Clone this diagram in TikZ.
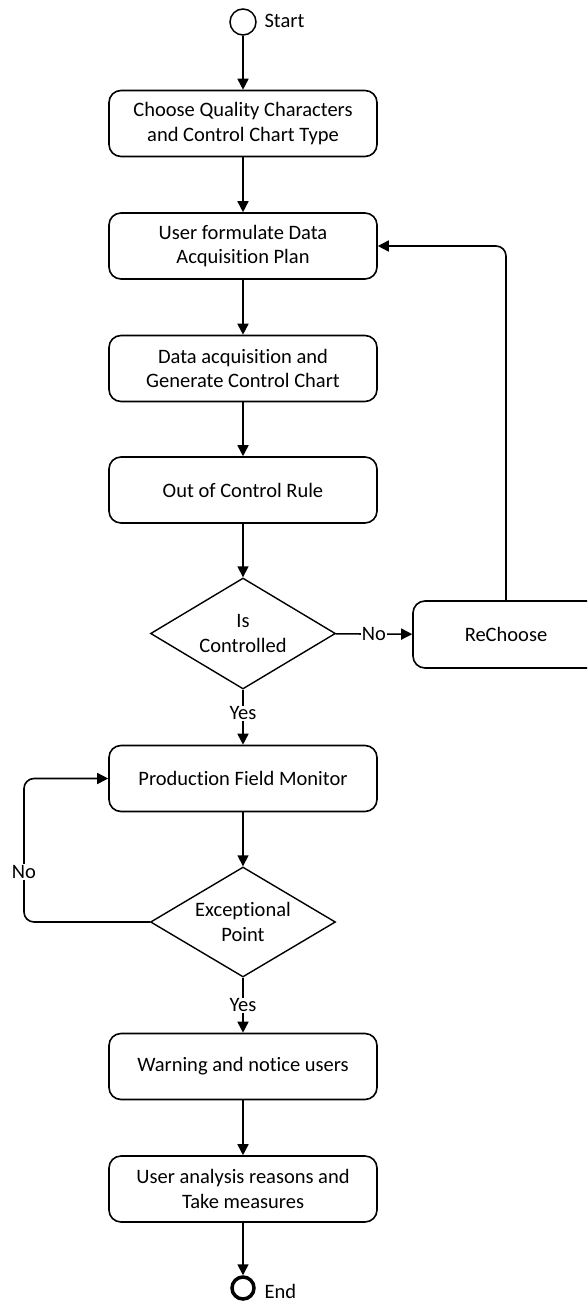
\documentclass[tikz,border=0pt]{standalone}
\usepackage{fontspec}
\setmainfont{Carlito}[Ligatures={NoCommon}]
\usetikzlibrary{arrows.meta,shapes.geometric}
\tikzset{
  every node/.style={font=\fontsize{20.5}{24.5}\selectfont},
  proc/.style={draw, line width=1.6pt, rounded corners=12pt, minimum width=268pt, minimum height=66pt, align=center, inner sep=2pt},
  decis/.style={draw, diamond, line width=1.4pt, minimum width=185pt, minimum height=111pt, inner sep=0pt},
  dtext/.style={align=center, inner sep=0pt},
  flow/.style={line width=1.6pt, -{Triangle[length=11pt,width=11pt]}},
  lbl/.style={fill=white, inner sep=1pt},
}
\begin{document}
\begin{tikzpicture}[x=1pt,y=1pt]
\useasboundingbox (0,0) rectangle (587,-1306);
\clip (0,0) rectangle (587,-1306);
\node[draw, circle, line width=1.5pt, minimum size=26pt, inner sep=0pt] (start) at (243,-22) {};
\node[anchor=west] (startlbl) at (261,-21) {Start};
\node[proc] (b1) at (243,-123.5) {Choose Quality Characters\\and Control Chart Type};
\node[proc] (b2) at (243,-246) {User formulate Data\\Acquisition Plan};
\node[proc] (b3) at (243,-368.5) {Data acquisition and\\Generate Control Chart};
\node[proc] (b4) at (243,-490) {Out of Control Rule};
\node[decis] (d1) at (243,-633.5) {};
\node[dtext] (d1t) at (d1) {Is\\Controlled};
\node[proc, minimum width=186pt, minimum height=67pt] (re) at (506,-634.5) {ReChoose};
\node[proc] (b5) at (243,-778.5) {Production Field Monitor};
\node[decis, minimum height=110pt] (d2) at (243,-922) {};
\node[dtext] (d2t) at (d2) {Exceptional\\Point};
\node[proc] (b6) at (243,-1066.5) {Warning and notice users};
\node[proc] (b7) at (243,-1189) {User analysis reasons and\\Take measures};
\node[draw, circle, line width=3.5pt, minimum size=22pt, inner sep=0pt] (end) at (243,-1288) {};
\node[anchor=west] (endlbl) at (261,-1291) {End};
\coordinate (lx) at (24,-850);

\draw[flow] (start) -- (b1);
\draw[flow] (b1) -- (b2);
\draw[flow] (b2) -- (b3);
\draw[flow] (b3) -- (b4);
\draw[flow] (b4) -- (d1);
\draw[flow] (d1) -- node[lbl] (no1) {No} (re);
\draw[flow, rounded corners=10pt] (re.north) |- (b2.east);
\draw[flow] (d1) -- node[lbl, pos=0.43] (yes1) {Yes} (b5);
\draw[flow] (b5) -- (d2);
\draw[flow, rounded corners=10pt] (d2.west) -| (lx) |- (b5.west);
\node[lbl] (no2) at (24,-872) {No};
\draw[flow] (d2) -- node[lbl, pos=0.5] (yes2) {Yes} (b6);
\draw[flow] (b6) -- (b7);
\draw[flow] (b7) -- (end);
\end{tikzpicture}
\end{document}
